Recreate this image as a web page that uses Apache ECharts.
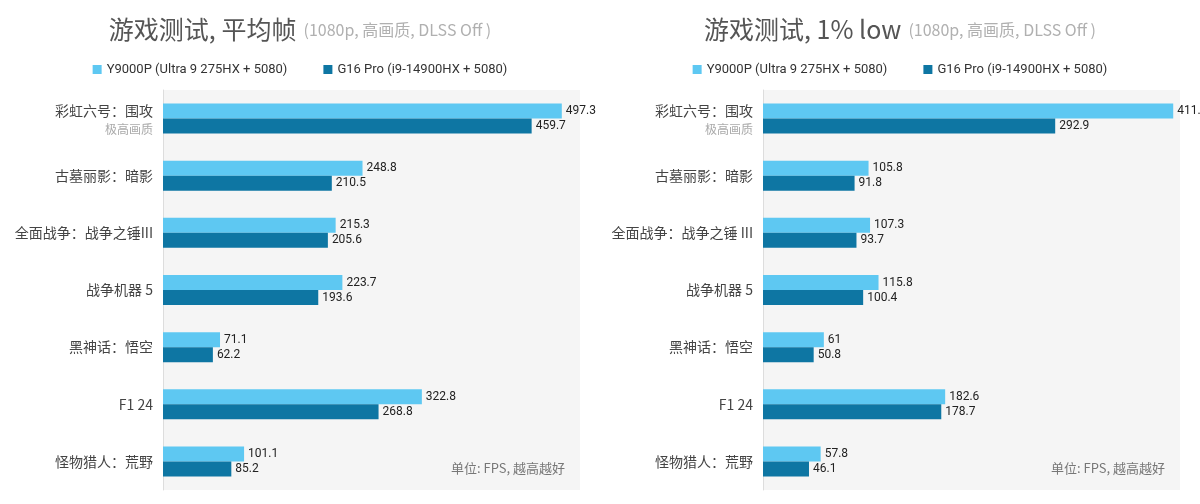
<!DOCTYPE html>
<html lang="zh">
<head>
<meta charset="UTF-8">
<title>游戏测试</title>
<style>
    body{margin:0;background:#fff;}
    .box{width:600px;height:504px;float:left;}
</style>
</head>
<body>
<div class="box" id="main"></div>
<div class="box" id="main2"></div>
<script src="https://cdn.jsdelivr.net/npm/echarts@6/dist/echarts.min.js"></script>
<script>
    var games = ['彩虹六号：围攻', '古墓丽影：暗影', '全面战争：战争之锤III', '战争机器 5', '黑神话：悟空', 'F1 24', '怪物猎人：荒野'];
    var games2 = ['彩虹六号：围攻', '古墓丽影：暗影', '全面战争：战争之锤 III', '战争机器 5', '黑神话：悟空', 'F1 24', '怪物猎人：荒野'];
    var avgY9000P = [497.3, 248.8, 215.3, 223.7, 71.1, 322.8, 101.1];
    var avgG16 = [459.7, 210.5, 205.6, 193.6, 62.2, 268.8, 85.2];
    var lowY9000P = [411.2, 105.8, 107.3, 115.8, 61, 182.6, 57.8];
    var lowG16 = [292.9, 91.8, 93.7, 100.4, 50.8, 178.7, 46.1];
    var names = ['Y9000P (Ultra 9 275HX + 5080)', 'G16 Pro (i9-14900HX + 5080)'];

    var narrow = "'Roboto', sans-serif";
    var cjk = "'Noto Sans CJK SC', sans-serif";

    function makeOption(title, cats, a, b, max) {
        return {
            animation: false,
            color: ['#5ec8f2', '#0e76a3'],
            title: [{
                text: '{m|' + title + '}{s|  (1080p, 高画质, DLSS Off )}',
                left: 'center', top: 12,
                textStyle: {
                    fontWeight: 'normal',
                    rich: {
                        m: {fontFamily: cjk, fontSize: 25, color: '#555', fontWeight: 'normal'},
                        s: {fontFamily: cjk, fontSize: 16, color: '#b0b0b0', fontWeight: 'normal'}
                    }
                }
            }, {
                text: '单位: FPS, 越高越好', right: 30, bottom: 24,
                textStyle: {fontFamily: cjk, fontSize: 13, color: '#777', fontWeight: 'normal'}
            }],
            legend: {
                data: names, top: 58, left: 'center', itemWidth: 9, itemHeight: 9, itemGap: 36,
                icon: 'rect',
                textStyle: {fontFamily: narrow, fontSize: 13, color: '#333'}
            },
            grid: {left: 163, right: 20, top: 90, bottom: 14},
            xAxis: {type: 'value', min: 0, max: max, show: false},
            yAxis: {
                type: 'category', data: cats, inverse: true,
                axisTick: {show: false},
                axisLine: {lineStyle: {color: '#ddd'}},
                splitArea: {show: true, areaStyle: {color: ['#f5f5f5']}},
                axisLabel: {
                    margin: 10,
                    fontFamily: cjk, fontSize: 14, color: '#444',
                    formatter: function (v, i) {
                        return i === 0 ? '{t|' + v + '}\n{sub|极高画质}' : v;
                    },
                    rich: {
                        t: {fontFamily: cjk, fontSize: 14, color: '#444', align: 'right', lineHeight: 22},
                        sub: {fontFamily: cjk, fontSize: 12, color: '#aaa', align: 'right', lineHeight: 16}
                    }
                }
            },
            series: [
                {name: names[0], type: 'bar', data: a, barWidth: 15, barGap: '0%',
                    label: {show: true, position: 'right', distance: 4, fontFamily: narrow, fontSize: 12, color: '#222'}},
                {name: names[1], type: 'bar', data: b, barWidth: 15,
                    label: {show: true, position: 'right', distance: 4, fontFamily: narrow, fontSize: 12, color: '#222'}}
            ]
        };
    }

    var myChart = echarts.init(document.getElementById('main'));
    myChart.setOption(makeOption('游戏测试, 平均帧', games, avgY9000P, avgG16, 520));
    var myChart2 = echarts.init(document.getElementById('main2'));
    myChart2.setOption(makeOption('游戏测试, 1% low', games2, lowY9000P, lowG16, 418));
</script>
</body>
</html>
